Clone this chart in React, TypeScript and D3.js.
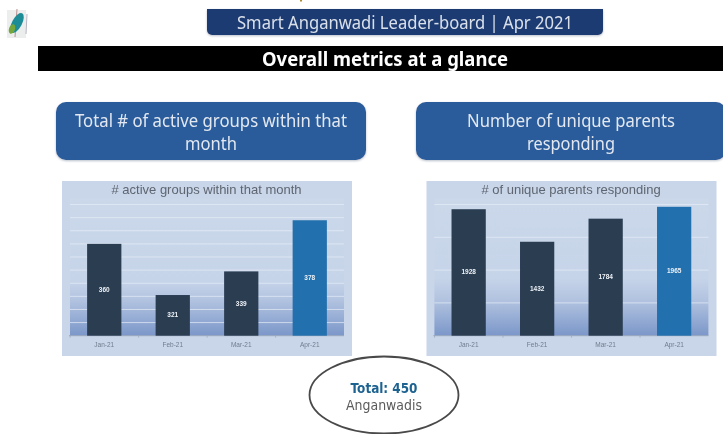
import React from "react";
import * as d3 from "d3";

const months = ["Jan-21", "Feb-21", "Mar-21", "Apr-21"];
const activeGroups = [360, 321, 339, 378];
const uniqueParents = [1928, 1432, 1784, 1965];
const activeTicks = d3.range(290, 400, 10);
const parentTicks = [0, 500, 1000, 1500, 2000];
const headerText = "Smart Anganwadi Leader-board | Apr 2021";
const subHeaderText = "Overall metrics at a glance";

const BASE = 335.7;
const TOP = 204.5;

function Chart({ id, px, title, titleX, x0, values, ticks, domain, labels }: any) {
  const x = d3.scaleBand<string>().domain(months).range([x0, x0 + 274]).paddingInner(0.5).paddingOuter(0.25);
  const y = d3.scaleLinear().domain(domain).range([BASE, TOP]);
  return (
    <g filter="url(#soft)">
      <rect x={px} y={181} width={290} height={175} fill="#c9d6e9" />
      <rect x={x0} y={TOP - 6} width={274} height={BASE - TOP + 6} fill={`url(#${id})`} />
      {ticks.map((t: number) => (
        <line key={t} x1={x0} x2={x0 + 274} y1={y(t)} y2={y(t)} stroke="#e6edf7" strokeWidth={1} opacity={t === ticks[0] ? 0 : 0.7} />
      ))}
      <line x1={x0 - 1} x2={x0 + 274} y1={BASE} y2={BASE} stroke="#9aa8bd" strokeWidth={1} />
      {months.map((m) => (
        <line key={m} x1={(x(m) as number) - 17} x2={(x(m) as number) - 17} y1={BASE} y2={BASE + 2} stroke="#9aa8bd" strokeWidth={0.7} />
      ))}
      {months.map((m, i) => (
        <g key={m}>
          <rect x={x(m)} y={y(values[i])} width={x.bandwidth()} height={BASE - y(values[i])} fill={i === 3 ? "#2470ad" : "#2a3c51"} />
          <text x={(x(m) as number) + x.bandwidth() / 2} y={y(values[i]) + (BASE - y(values[i])) / 2 + 2} textAnchor="middle" fontFamily="Liberation Sans" fontWeight="bold" fontSize={6.5} fill="#eef2f7">
            {labels[i]}
          </text>
          <text x={(x(m) as number) + x.bandwidth() / 2} y={347} textAnchor="middle" fontFamily="Liberation Sans" fontSize={6.5} fill="#6f7c8e">
            {m}
          </text>
        </g>
      ))}
      <text x={titleX} y={194} textAnchor="middle" fontFamily="Liberation Sans" fontSize={13} fill="#5e6570">
        {title}
      </text>
    </g>
  );
}

function Grad({ id, mid }: { id: string; mid: string }) {
  return (
    <linearGradient id={id} x1="0" y1="0" x2="0" y2="1">
      <stop offset="0" stopColor="#cbd8ea" />
      <stop offset={mid} stopColor="#c6d4e9" />
      <stop offset="0.74" stopColor="#b2c3e0" />
      <stop offset="1" stopColor="#7b97c9" />
    </linearGradient>
  );
}

export default function App() {
  const font = "'Noto Sans', 'Open Sans', sans-serif";
  return (
    <svg width={723} height={434} viewBox="0 0 723 434" style={{ position: "absolute", left: 0, top: 0, display: "block", background: "#fff" }}>
      <defs>
        <filter id="soft" x="-5%" y="-5%" width="110%" height="110%">
          <feGaussianBlur stdDeviation="0.55" />
        </filter>
        <filter id="soft2" x="-5%" y="-10%" width="110%" height="125%">
          <feDropShadow dx="0" dy="1" stdDeviation="1.2" floodColor="#7d8aa0" floodOpacity="0.55" />
          <feGaussianBlur stdDeviation="0.35" />
        </filter>
        <filter id="txt" x="-5%" y="-20%" width="110%" height="140%">
          <feGaussianBlur stdDeviation="0.3" />
        </filter>
        <Grad id="gA" mid="0.6" />
        <Grad id="gB" mid="0.58" />
      </defs>

      {/* logo */}
      <g filter="url(#soft)">
        <rect x={7} y={10} width={19} height={28} fill="#dfe2e2" opacity={0.6} />
        <line x1={17} y1={9} x2={15} y2={37} stroke="#b98d8d" strokeWidth={1} />
        <line x1={27} y1={14} x2={26} y2={34} stroke="#b5b5c2" strokeWidth={1} />
        <ellipse cx={17} cy={23} rx={5} ry={11} transform="rotate(28 17 23)" fill="#1f8d97" />
        <ellipse cx={12} cy={29} rx={3} ry={5} transform="rotate(20 12 29)" fill="#74a63b" />
      </g>
      <rect x={300} y={0} width={2} height={1.5} fill="#b08a2e" />

      {/* banner */}
      <path d="M207,9H603V30a5,5 0 0 1 -5,5H212a5,5 0 0 1 -5,-5Z" fill="#1f3a72" filter="url(#soft2)" />
      <text x={405} y={29} textAnchor="middle" fontFamily={font} fontSize={18} textLength={336} lengthAdjust="spacingAndGlyphs" fill="#d9e0ea" filter="url(#txt)">
        {headerText}
      </text>

      {/* black bar */}
      <rect x={38} y={46} width={685} height={25} fill="#000" />
      <text x={385} y={65.5} textAnchor="middle" fontFamily={font} fontWeight="bold" fontSize={19.5} textLength={246} lengthAdjust="spacingAndGlyphs" fill="#fff" filter="url(#txt)">
        {subHeaderText}
      </text>

      {/* boxes */}
      <rect x={56} y={102} width={310} height={58} rx={10} fill="#2b5c9c" filter="url(#soft2)" />
      <text x={211} y={127} textAnchor="middle" fontFamily={font} fontSize={18} textLength={272} lengthAdjust="spacingAndGlyphs" fill="#e3e8f0" filter="url(#txt)">
        Total # of active groups within that
      </text>
      <text x={211} y={150} textAnchor="middle" fontFamily={font} fontSize={18} textLength={52} lengthAdjust="spacingAndGlyphs" fill="#e3e8f0" filter="url(#txt)">
        month
      </text>
      <rect x={416} y={102} width={310} height={58} rx={10} fill="#2b5c9c" filter="url(#soft2)" />
      <text x={571} y={127} textAnchor="middle" fontFamily={font} fontSize={18} textLength={208} lengthAdjust="spacingAndGlyphs" fill="#e3e8f0" filter="url(#txt)">
        Number of unique parents
      </text>
      <text x={571} y={150} textAnchor="middle" fontFamily={font} fontSize={18} textLength={88} lengthAdjust="spacingAndGlyphs" fill="#e3e8f0" filter="url(#txt)">
        responding
      </text>

      <Chart id="gA" px={62} title="# active groups within that month" titleX={206.5} x0={70} values={activeGroups} ticks={activeTicks} domain={[290, 390]} labels={activeGroups} />
      <Chart id="gB" px={426.5} title="# of unique parents responding" titleX={571} x0={434.4} values={uniqueParents} ticks={parentTicks} domain={[0, 2000]} labels={uniqueParents} />

      {/* total */}
      <ellipse cx={384} cy={395} rx={74.5} ry={38.5} fill="#fff" stroke="#4a4a4a" strokeWidth={1.8} filter="url(#txt)" />
      <text x={384} y={393} textAnchor="middle" fontFamily="DejaVu Sans" fontWeight="bold" fontSize={13.5} textLength={67} lengthAdjust="spacingAndGlyphs" fill="#1f6391" filter="url(#txt)">
        Total: 450
      </text>
      <text x={384} y={410} textAnchor="middle" fontFamily="DejaVu Sans" fontSize={13.5} textLength={76} lengthAdjust="spacingAndGlyphs" fill="#5b5b5b" filter="url(#txt)">
        Anganwadis
      </text>
    </svg>
  );
}
